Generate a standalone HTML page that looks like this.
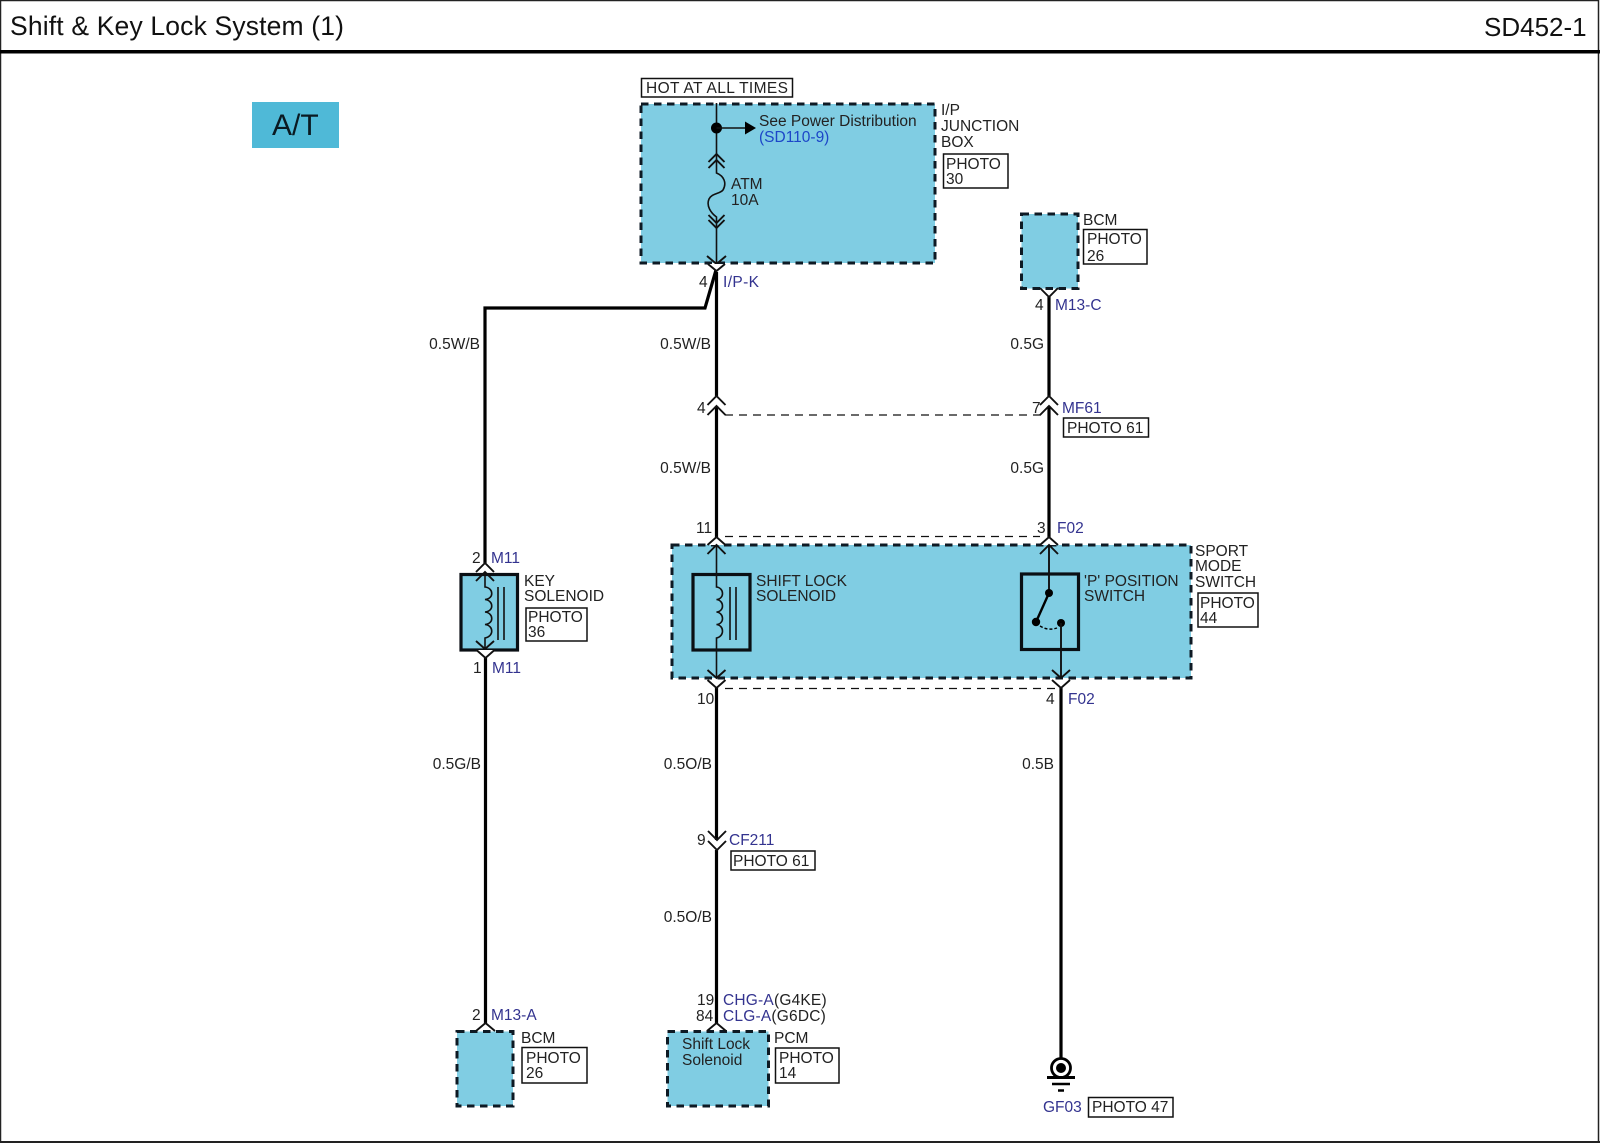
<!DOCTYPE html>
<html><head><meta charset="utf-8"><style>
html,body{margin:0;padding:0;background:#fff}
svg{display:block}
text{font-family:"Liberation Sans",Arial,sans-serif;font-size:15.5px;fill:#222}
.b{fill:#33338f}
.e{text-anchor:end}
.f{fill:#80cde3;stroke:#0e1a24;stroke-width:3;stroke-dasharray:7.5 5.5}
.bx{fill:#fff;stroke:#111;stroke-width:1.5}
.s{fill:none;stroke:#000;stroke-width:3.2}
.t{fill:none;stroke:#111;stroke-width:1.6}
.m{fill:none;stroke:#111;stroke-width:1.9}
.d{fill:none;stroke:#111;stroke-width:1.2;stroke-dasharray:8 6}
.c{fill:#fff;stroke:#111;stroke-width:1.9}
</style></head><body>
<svg width="1600" height="1143" viewBox="0 0 1600 1143" xmlns="http://www.w3.org/2000/svg">
<rect width="1600" height="1143" fill="#fff"/>
<path d="M0.5 1143V0.5H1598.5V1143" fill="none" stroke="#222" stroke-width="1.5"/>
<path d="M0 1142H1600" stroke="#222" stroke-width="2"/>
<rect x="0" y="50" width="1600" height="3.5" fill="#000"/>
<text x="10" y="35" textLength="334" lengthAdjust="spacing" style="font-size:26.5px;fill:#111">Shift &amp; Key Lock System (1)</text>
<text x="1484" y="36" style="font-size:26px;fill:#111">SD452-1</text>
<rect x="252" y="102" width="87" height="46" fill="#4fb9d7"/>
<text x="272" y="135" style="font-size:30px;fill:#0a1a22">A/T</text>

<!-- blocks -->
<rect class="f" x="641" y="104" width="294" height="159"/>
<rect class="f" x="1021.500" y="214" width="56.500" height="74.500"/>
<rect class="f" x="672" y="545" width="519" height="133"/>
<rect class="f" x="457" y="1031.500" width="56" height="74.500"/>
<rect class="f" x="667.500" y="1031.500" width="101" height="74.500"/>
<rect x="461" y="574.500" width="56.500" height="75.500" fill="#80cde3" stroke="#0a0f14" stroke-width="3.2"/>
<rect x="693" y="574.500" width="57" height="75.500" fill="none" stroke="#0a0f14" stroke-width="3.2"/>
<rect x="1021.500" y="574" width="57" height="75.500" fill="none" stroke="#0a0f14" stroke-width="3.2"/>

<!-- thick wires -->
<path class="s" d="M716.500 272V396M716.500 406V537M716.500 688V840M716.500 850V1023"/>
<path class="s" d="M716 270L705 308H485V563M485.500 658V1023"/>
<path class="s" d="M1049 297V396M1049 406V537M1061 688V1060"/>

<!-- dashed links -->
<path class="d" d="M725 415H1042M725 536.500H1040M725 688.500H1055"/>

<!-- IP junction internals -->
<path class="t" d="M716.500 103V173C724 176 727 183 723 190C720 194 712 193 709 199C706 206 711 213 716.500 217V263"/>
<circle cx="716.500" cy="128" r="5.500" fill="#000"/>
<path class="t" d="M716.500 128H746"/>
<path d="M745 121.500L756 128L745 134.500Z" fill="#000"/>
<path class="m" d="M708.500 162L716.500 154L724.500 162M708.500 168L716.500 160L724.500 168"/>
<path class="m" d="M708.500 215L716.500 223L724.500 215M708.500 220L716.500 228L724.500 220"/>
<path class="m" d="M707 256L716.500 264L726 256"/>
<path class="c" d="M708 264L716.500 271L725 264" />

<!-- Top BCM connector -->
<path class="m" d="M1040 288L1049 297L1058 288"/>

<!-- MF61 -->
<path class="m" d="M707.500 405L716.500 396L725.500 405M707.500 415L716.500 406L725.500 415"/>
<path class="m" d="M1040 405L1049 396L1058 405M1040 415L1049 406L1058 415"/>

<!-- key solenoid -->
<path class="c" d="M476 572L485 563L494 572"/>
<path class="m" d="M476 581L485 572L494 581"/>
<path class="t" d="M485 572V587c9 1 9 12 0 12.500c9 1 9 12 0 12.500c9 1 9 12 0 12.500c9 1 9 12 0 13.500V649"/>
<path class="t" d="M498 587V640M504 587V640"/>
<path class="m" d="M476 641L485 649L494 641"/>
<path class="c" d="M476.500 650L485.500 658L494.500 650"/>

<!-- shift block connectors -->
<path class="c" d="M707.500 545L716.500 537L725.500 545"/>
<path class="m" d="M707.500 554L716.500 545L725.500 554"/>
<path class="t" d="M716.500 545V587c8 1 8 12 0 12.500c8 1 8 12 0 12.500c8 1 8 12 0 12.500c8 1 8 12 0 13.500V678"/>
<path class="t" d="M730 587V640M736 587V640"/>
<path class="m" d="M707.500 670L716.500 678L725.500 670"/>
<path class="c" d="M707.500 680L716.500 688L725.500 680"/>

<path class="c" d="M1040 545L1049 537L1058 545"/>
<path class="m" d="M1040 554L1049 545L1058 554"/>
<path class="m" d="M1049 545V593"/>
<circle cx="1049" cy="593" r="4" fill="#000"/>
<path d="M1049 593L1036 622" stroke="#000" stroke-width="2.400"/>
<circle cx="1036" cy="622" r="4.200" fill="#000"/>
<circle cx="1061" cy="623" r="4" fill="#000"/>
<path d="M1040 626Q1048 631 1057 628" fill="none" stroke="#000" stroke-width="1.400" stroke-dasharray="3 2"/>
<path class="m" d="M1061 623V678"/>
<path class="m" d="M1052 670L1061 678L1070 670"/>
<path class="c" d="M1052 680L1061 688L1070 680"/>

<!-- CF211 -->
<path class="m" d="M708 831L717 840L726 831M708 841L717 850L726 841"/>

<!-- bottom connectors -->
<path class="m" d="M476 1031L485.500 1023L495 1031"/>
<path class="m" d="M707 1031L716.500 1023L726 1031"/>

<!-- ground -->
<circle cx="1061" cy="1068" r="9.500" fill="#fff" stroke="#000" stroke-width="2.800"/>
<circle cx="1061" cy="1068" r="5" fill="#000"/>
<path d="M1047 1077.500H1075" stroke="#000" stroke-width="3"/>
<path d="M1052 1084H1070" stroke="#000" stroke-width="2.500"/>
<path d="M1058 1090.500H1064" stroke="#000" stroke-width="2.500"/>

<!-- boxes -->
<rect class="bx" x="641.500" y="78.500" width="151" height="18.500"/>
<rect class="bx" x="943.500" y="154" width="64.500" height="34"/>
<rect class="bx" x="1083.500" y="229.500" width="63.500" height="34.500"/>
<rect class="bx" x="1063.500" y="418" width="85" height="19"/>
<rect class="bx" x="526" y="608" width="61" height="33"/>
<rect class="bx" x="1198" y="593" width="60" height="34"/>
<rect class="bx" x="731" y="851" width="84" height="19"/>
<rect class="bx" x="522" y="1047.500" width="65" height="35.500"/>
<rect class="bx" x="775.500" y="1048" width="63.500" height="35"/>
<rect class="bx" x="1088.500" y="1097.500" width="84.500" height="19.500"/>

<!-- labels -->
<text x="646" y="93" textLength="142" lengthAdjust="spacing">HOT AT ALL TIMES</text>
<text x="759" y="126">See Power Distribution</text>
<text x="759" y="142" style="fill:#1c46c8">(SD110-9)</text>
<text x="941" y="115">I/P</text><text x="941" y="131">JUNCTION</text><text x="941" y="147">BOX</text>
<text x="946" y="169">PHOTO</text><text x="946" y="184">30</text>
<text x="731" y="189">ATM</text><text x="731" y="205">10A</text>
<text x="699" y="287">4</text><text class="b" x="723" y="287" textLength="36" lengthAdjust="spacing">I/P-K</text>
<text class="e" x="480" y="349">0.5W/B</text>
<text class="e" x="711" y="349">0.5W/B</text>
<text class="e" x="1044" y="349">0.5G</text>
<text x="1083" y="225">BCM</text>
<text x="1087" y="244">PHOTO</text><text x="1087" y="261">26</text>
<text x="1035" y="310">4</text><text class="b" x="1055" y="310">M13-C</text>
<text x="697" y="413">4</text><text x="1032" y="413">7</text><text class="b" x="1062" y="413">MF61</text>
<text x="1067" y="433">PHOTO 61</text>
<text class="e" x="711" y="473">0.5W/B</text>
<text class="e" x="1044" y="473">0.5G</text>
<text x="696" y="533">11</text><text x="1037" y="533">3</text><text class="b" x="1057" y="533">F02</text>
<text x="472" y="563">2</text><text class="b" x="491" y="563">M11</text>
<text x="524" y="586">KEY</text><text x="524" y="601">SOLENOID</text>
<text x="528" y="622">PHOTO</text><text x="528" y="637">36</text>
<text x="473" y="673">1</text><text class="b" x="492" y="673">M11</text>
<text x="756" y="586">SHIFT LOCK</text><text x="756" y="601">SOLENOID</text>
<text x="1084" y="586">'P' POSITION</text><text x="1084" y="601">SWITCH</text>
<text x="1195" y="556">SPORT</text><text x="1195" y="571">MODE</text><text x="1195" y="587">SWITCH</text>
<text x="1200" y="608">PHOTO</text><text x="1200" y="623">44</text>
<text x="697" y="704">10</text><text x="1046" y="704">4</text><text class="b" x="1068" y="704">F02</text>
<text class="e" x="481" y="769">0.5G/B</text>
<text class="e" x="712" y="769">0.5O/B</text>
<text class="e" x="1054" y="769">0.5B</text>
<text x="697" y="845">9</text><text class="b" x="729" y="845">CF211</text>
<text x="733" y="866">PHOTO 61</text>
<text class="e" x="712" y="922">0.5O/B</text>
<text x="697" y="1005">19</text><text x="696" y="1021">84</text>
<text x="723" y="1005" style="letter-spacing:.2px"><tspan class="b">CHG-A</tspan>(G4KE)</text>
<text x="723" y="1021" style="letter-spacing:.2px"><tspan class="b">CLG-A</tspan>(G6DC)</text>
<text x="472" y="1020">2</text><text class="b" x="491" y="1020">M13-A</text>
<text x="521" y="1043">BCM</text>
<text x="526" y="1063">PHOTO</text><text x="526" y="1078">26</text>
<text x="682" y="1049">Shift Lock</text><text x="682" y="1065">Solenoid</text>
<text x="774" y="1043">PCM</text>
<text x="779" y="1063">PHOTO</text><text x="779" y="1078">14</text>
<text class="b" x="1043" y="1112">GF03</text>
<text x="1092" y="1112">PHOTO 47</text>
</svg>
</body></html>
